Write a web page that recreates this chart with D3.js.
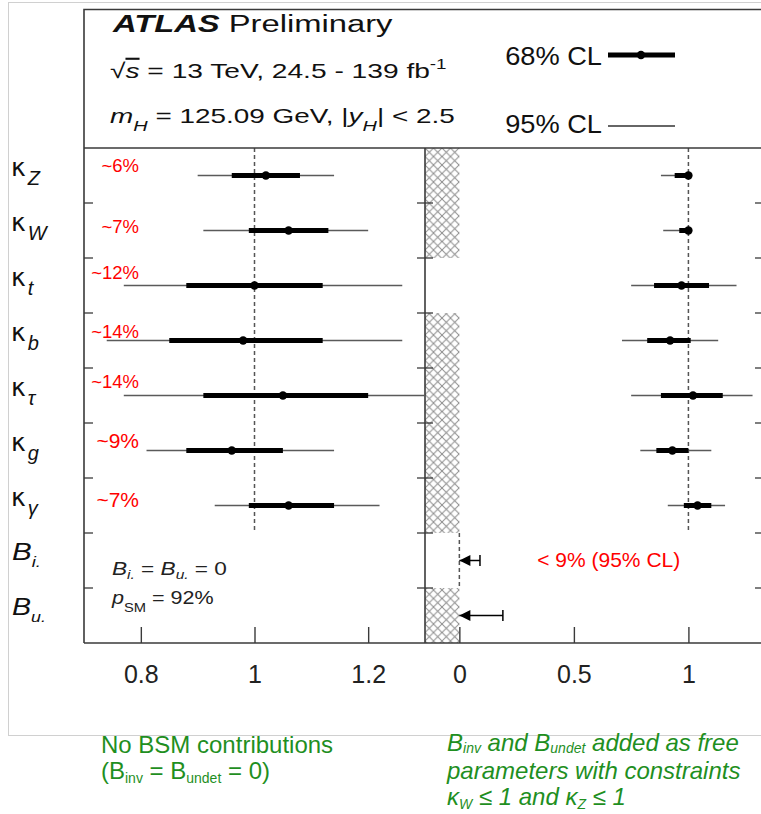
<!DOCTYPE html>
<html><head><meta charset="utf-8">
<script src="https://cdnjs.cloudflare.com/ajax/libs/d3/7.8.5/d3.min.js"></script>
<style>
body{margin:0;background:#fff;}
svg{display:block;}
text{font-family:"Liberation Sans",Arial,Helvetica,sans-serif;}
</style>
</head><body>
<svg id="chart" width="761" height="814"></svg>
<script>
// ---------------- data ----------------
const paramSymbols = ["κ","κ","κ","κ","κ","κ","κ","B","B"];
const paramSubs    = ["Z","W","t","b","τ","g","γ","i.","u."];
const pctLabels    = ["~6%","~7%","~12%","~14%","~14%","~9%","~7%"];
// left panel: no BSM contributions
const leftCentral = [1.02,1.06,1.00,0.98,1.05,0.96,1.06];
const left68Lo    = [0.96,0.99,0.88,0.85,0.91,0.88,0.99];
const left68Hi    = [1.08,1.13,1.12,1.12,1.20,1.05,1.14];
const left95Lo    = [0.90,0.91,0.77,0.74,0.77,0.81,0.93];
const left95Hi    = [1.14,1.20,1.26,1.26,1.30,1.14,1.22];
// right panel: B_inv, B_undet free
const rightCentral = [1.00,1.00,0.97,0.92,1.02,0.93,1.04];
const right68Lo    = [0.94,0.96,0.85,0.82,0.88,0.86,0.98];
const right68Hi    = [1.00,1.00,1.09,1.01,1.15,1.00,1.10];
const right95Lo    = [0.88,0.89,0.75,0.71,0.75,0.79,0.91];
const right95Hi    = [1.00,1.00,1.21,1.13,1.28,1.10,1.16];
const bCentral = [0,0];
const bLimits  = [0.09,0.19];   // 95% CL upper limits on B_i., B_u.
const hatchedRows = [true,true,false,true,true,true,true,false,true];
const leftTicks  = [0.8,1,1.2];
const leftTickLabels  = ["0.8","1","1.2"];
const rightTicks = [0,0.5,1];
const rightTickLabels = ["0","0.5","1"];

// ---------------- style / layout ----------------
const pctDy = [-4,2,-7,-3,-8,-3,1];
const pctSize = [18.5,18.5,18.5,18.5,18.5,21,21];
const frameL = 84, sepX = 425, frameR = 764, headTop = 9.5, plotTop = 148, plotBot = 643;
const frameCol = "#3a3a3a";
const red = "#ff0000", green = "#1f8f1f";

const svg = d3.select("#chart");
const nRows = paramSubs.length;
const y = d3.scaleBand().domain(d3.range(nRows)).range([plotTop, plotBot]).padding(0);
const cy = i => y(i) + y.bandwidth()/2;
const xL = d3.scaleLinear().domain([0.7,1.3]).range([frameL, sepX]);
const xR = d3.scaleLinear().domain([-0.15,1.33]).range([sepX, frameR]);

// outer light frame
svg.append("rect").attr("x",8.5).attr("y",2.5).attr("width",800).attr("height",733)
  .attr("fill","none").attr("stroke","#d0d0d0").attr("stroke-width",1);

// hatch pattern
const defs = svg.append("defs");
const pat = defs.append("pattern").attr("id","hatch").attr("patternUnits","userSpaceOnUse")
  .attr("width",8.5).attr("height",8.5).attr("x",sepX).attr("y",plotTop);
pat.append("rect").attr("width",8.5).attr("height",8.5).attr("fill","#fff");
pat.append("path").attr("d","M0,0L8.5,8.5M8.5,0L0,8.5").attr("stroke","#8c8c8c").attr("stroke-width",1);
defs.append("clipPath").attr("id","leftClip").append("rect")
  .attr("x",frameL).attr("y",plotTop).attr("width",sepX-frameL).attr("height",plotBot-plotTop);

svg.append("g").selectAll("rect").data(d3.range(nRows).filter(i=>hatchedRows[i])).join("rect")
  .attr("x",xR(-0.15)).attr("y",i=>y(i)).attr("width",xR(0)-xR(-0.15)).attr("height",y.bandwidth())
  .attr("fill","url(#hatch)");

// dashed reference lines
const dash = svg.append("g").attr("stroke","#555").attr("stroke-width",1.5).attr("stroke-dasharray","4,3");
dash.append("line").attr("x1",xL(1)).attr("x2",xL(1)).attr("y1",y(0)).attr("y2",y(6)+y.bandwidth());
dash.append("line").attr("x1",xR(1)).attr("x2",xR(1)).attr("y1",y(0)).attr("y2",y(6)+y.bandwidth());
dash.append("line").attr("x1",xR(0)).attr("x2",xR(0)).attr("y1",y(7)).attr("y2",y(7)+y.bandwidth());

// frame
const fr = svg.append("g").attr("stroke",frameCol).attr("stroke-width",1.6).attr("fill","none");
fr.append("path").attr("d",`M${frameL},${plotBot}V${headTop}H${frameR}`);
fr.append("line").attr("x1",frameL).attr("x2",frameR).attr("y1",plotTop).attr("y2",plotTop);
fr.append("line").attr("x1",sepX).attr("x2",sepX).attr("y1",plotTop).attr("y2",plotBot);
fr.append("line").attr("x1",frameL).attr("x2",frameR).attr("y1",plotBot).attr("y2",plotBot);

// y ticks at row boundaries
const bnd = d3.range(1,nRows).map(i=>y(i));
const tk = svg.append("g").attr("stroke",frameCol).attr("stroke-width",1.3);
bnd.forEach(b=>{
  tk.append("line").attr("x1",frameL).attr("x2",frameL+9).attr("y1",b).attr("y2",b);
  tk.append("line").attr("x1",sepX-8).attr("x2",sepX+8).attr("y1",b).attr("y2",b);
  tk.append("line").attr("x1",frameR-9).attr("x2",frameR).attr("y1",b).attr("y2",b);
});

// x axes
function xAxis(scale, ticks, labels){
  const g = svg.append("g").attr("transform",`translate(0,${plotBot})`)
    .call(d3.axisBottom(scale).tickValues(ticks).tickFormat((d,i)=>labels[i]).tickSize(0).tickPadding(40));
  g.select(".domain").remove();
  g.selectAll(".tick line").remove();
  g.selectAll(".tick").append("line").attr("y1",0).attr("y2",-16).attr("stroke",frameCol).attr("stroke-width",1.4);
  g.selectAll(".tick text").attr("font-size",25).attr("fill","#222")
    .attr("font-family","'Liberation Sans',Arial,sans-serif").attr("dy",0).attr("y",40);
}
xAxis(xL, leftTicks, leftTickLabels);
xAxis(xR, rightTicks, rightTickLabels);

// error bars
function drawBars(scale, c, lo68, hi68, lo95, hi95, clip){
  const g = svg.append("g");
  if(clip) g.attr("clip-path","url(#leftClip)");
  const idx = d3.range(c.length);
  g.selectAll(".t95").data(idx).join("line")
    .attr("x1",i=>scale(lo95[i])).attr("x2",i=>scale(hi95[i])).attr("y1",cy).attr("y2",cy)
    .attr("stroke","#5a5a5a").attr("stroke-width",1.5);
  g.selectAll(".t68").data(idx).join("line")
    .attr("x1",i=>scale(lo68[i])).attr("x2",i=>scale(hi68[i])).attr("y1",cy).attr("y2",cy)
    .attr("stroke","#000").attr("stroke-width",5);
  g.selectAll("circle").data(idx).join("circle")
    .attr("cx",i=>scale(c[i])).attr("cy",cy).attr("r",4.2).attr("fill","#000");
}
drawBars(xL, leftCentral, left68Lo, left68Hi, left95Lo, left95Hi, true);
drawBars(xR, rightCentral, right68Lo, right68Hi, right95Lo, right95Hi, false);

// B upper limits (arrows)
const bg = svg.append("g");
bLimits.forEach((lim,k)=>{
  const r = 7 + k, yy = cy(r), x0 = xR(bCentral[k]), x1 = xR(lim);
  bg.append("line").attr("x1",x0).attr("x2",x1).attr("y1",yy).attr("y2",yy).attr("stroke","#000").attr("stroke-width",1.5);
  bg.append("line").attr("x1",x1).attr("x2",x1).attr("y1",yy-5.5).attr("y2",yy+5.5).attr("stroke","#000").attr("stroke-width",1.5);
  bg.append("path").attr("d",`M${x0},${yy}L${x0+11},${yy-5.5}L${x0+11},${yy+5.5}Z`).attr("fill","#000");
});

// percentage labels
svg.append("g").selectAll("text").data(pctLabels).join("text")
  .attr("x",139).attr("y",(d,i)=>cy(i)+pctDy[i]).attr("text-anchor","end")
  .attr("font-size",(d,i)=>pctSize[i]).attr("fill",red).text(d=>d);
svg.append("text").attr("x",xR(0.34)).attr("y",cy(7)+6).attr("font-size",21).attr("fill",red)
  .text("< 9% (95% CL)");

// helper: text fitted horizontally to a width
function fitted(x, yb, width, build, anchor){
  const g = svg.append("g");
  const t = g.append("text").attr("x",0).attr("y",0).attr("fill","#111");
  if(anchor) t.attr("text-anchor",anchor);
  build(t);
  const w = t.node().getBBox().width;
  g.attr("transform",`translate(${x},${yb}) scale(${width/w},1)`);
  return g;
}

// y labels
paramSymbols.forEach((s,i)=>{
  if(s==="κ"){
    const t = svg.append("text").attr("x",11).attr("y",cy(i)).attr("fill","#111");
    t.append("tspan").attr("font-size",25).attr("font-family","'DejaVu Sans',sans-serif").text(s);
    t.append("tspan").attr("font-size",20).attr("font-style","italic").attr("dx",2).attr("dy",9).text(paramSubs[i]);
  } else {
    fitted(12, cy(i)-1, i===7?29:34, t=>{
      t.append("tspan").attr("font-size",24).attr("font-style","italic").text(s);
      t.append("tspan").attr("font-size",15).attr("font-style","italic").attr("dy",7).text(paramSubs[i]);
    });
  }
});

// text inside left panel
fitted(112, 575, 115, t=>{
  t.attr("font-size",19).attr("fill","#222");
  t.append("tspan").attr("font-style","italic").text("B");
  t.append("tspan").attr("font-size",13).attr("font-style","italic").attr("dy",4).text("i.");
  t.append("tspan").attr("dy",-4).text(" = ");
  t.append("tspan").attr("font-style","italic").text("B");
  t.append("tspan").attr("font-size",13).attr("font-style","italic").attr("dy",4).text("u.");
  t.append("tspan").attr("dy",-4).text(" = 0");
});
fitted(112, 604, 103, t=>{
  t.attr("font-size",19).attr("fill","#222");
  t.append("tspan").attr("font-style","italic").text("p");
  t.append("tspan").attr("font-size",13).attr("dy",8).text("SM");
  t.append("tspan").attr("dy",-8).text(" = 92%");
});

// header texts
fitted(113, 32, 282, t=>{
  t.attr("font-size",24.5);
  t.append("tspan").attr("font-weight","bold").attr("font-style","italic").text("ATLAS");
  t.append("tspan").text(" Preliminary");
});
fitted(110, 78, 337, t=>{
  t.attr("font-size",21);
  t.append("tspan").text("√");
  t.append("tspan").attr("font-style","italic").style("text-decoration","overline").text("s");
  t.append("tspan").text(" = 13 TeV, 24.5 - 139 fb");
  t.append("tspan").attr("font-size",14).attr("dy",-9).text("-1");
});
fitted(110, 123, 345, t=>{
  t.attr("font-size",21);
  t.append("tspan").attr("font-style","italic").text("m");
  t.append("tspan").attr("font-size",15).attr("font-style","italic").attr("dy",8).text("H");
  t.append("tspan").attr("dy",-8).text(" = 125.09 GeV, |");
  t.append("tspan").attr("font-style","italic").text("y");
  t.append("tspan").attr("font-size",15).attr("font-style","italic").attr("dy",8).text("H");
  t.append("tspan").attr("dy",-8).text("| < 2.5");
});
// legend
fitted(602, 65, 97, t=>{ t.attr("font-size",25).text("68% CL"); }, "end");
fitted(602, 133, 97, t=>{ t.attr("font-size",25).text("95% CL"); }, "end");
svg.append("line").attr("x1",608).attr("x2",675).attr("y1",55).attr("y2",55).attr("stroke","#000").attr("stroke-width",5);
svg.append("circle").attr("cx",641).attr("cy",55).attr("r",4.2).attr("fill","#000");
svg.append("line").attr("x1",608).attr("x2",675).attr("y1",126).attr("y2",126).attr("stroke","#333").attr("stroke-width",1.5);

// green captions
{
  const fs = 24, sub = 14;
  const a = svg.append("text").attr("x",101).attr("y",753).attr("font-size",fs).attr("fill",green);
  a.text("No BSM contributions");
  const b = svg.append("text").attr("x",101).attr("y",779).attr("font-size",fs).attr("fill",green);
  b.append("tspan").text("(B");
  b.append("tspan").attr("font-size",sub).attr("dy",4).text("inv");
  b.append("tspan").attr("dy",-4).text(" = B");
  b.append("tspan").attr("font-size",sub).attr("dy",4).text("undet");
  b.append("tspan").attr("dy",-4).text(" = 0)");
  const c = svg.append("text").attr("x",447).attr("y",751).attr("font-size",fs).attr("fill",green).attr("font-style","italic");
  c.append("tspan").text("B");
  c.append("tspan").attr("font-size",sub).attr("dy",2).text("inv");
  c.append("tspan").attr("dy",-2).text(" and B");
  c.append("tspan").attr("font-size",sub).attr("dy",2).text("undet");
  c.append("tspan").attr("dy",-2).text(" added as free");
  svg.append("text").attr("x",447).attr("y",779).attr("font-size",fs).attr("fill",green).attr("font-style","italic")
    .text("parameters with constraints");
  const e = svg.append("text").attr("x",447).attr("y",805).attr("font-size",fs).attr("fill",green).attr("font-style","italic");
  e.append("tspan").text("κ");
  e.append("tspan").attr("font-size",sub).attr("dy",4).text("W");
  e.append("tspan").attr("dy",-4).text(" ≤ 1 and κ");
  e.append("tspan").attr("font-size",sub).attr("dy",4).text("Z");
  e.append("tspan").attr("dy",-4).text(" ≤ 1");
}
</script>
</body></html>
